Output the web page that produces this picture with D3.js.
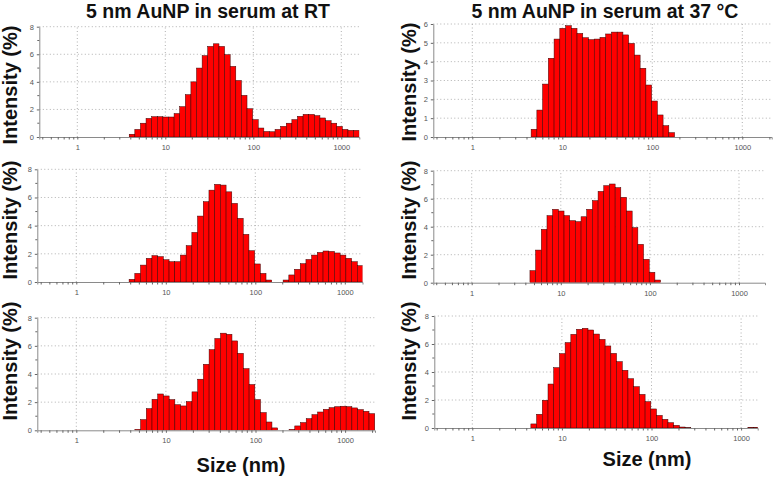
<!DOCTYPE html>
<html><head><meta charset="utf-8">
<script src="https://cdn.jsdelivr.net/npm/d3@7"></script>
<style>
html,body{margin:0;padding:0;background:#fff;}
svg{display:block;font-family:"Liberation Sans",Arial,sans-serif;}
</style></head>
<body>
<svg id="chart" width="773" height="479"></svg>
<script>
// Bin centres (nm) of the size classes shown
const sizes = [4.187, 4.849, 5.615, 6.503, 7.531, 8.721, 10.10, 11.70, 13.54, 15.69, 18.17, 21.04, 24.36, 28.21, 32.67, 37.84, 43.82, 50.75, 58.77, 68.06, 78.82, 91.28, 105.7, 122.4, 141.8, 164.2, 190.1, 220.2, 255.0, 295.3, 342.0, 396.1, 458.7, 531.2, 615.1, 712.4, 825.0, 955.4, 1106, 1281, 1484, 1718, 1990];

// Intensity (%) — room temperature
const rtTop = [0.2, 0.55, 1.0, 1.35, 1.47, 1.47, 1.45, 1.45, 1.7, 2.2, 3.07, 4.0, 5.0, 5.9, 6.57, 6.76, 6.57, 5.97, 5.12, 4.1, 3.02, 2.05, 1.26, 0.65, 0.4, 0.38, 0.55, 0.77, 1.0, 1.26, 1.5, 1.64, 1.64, 1.55, 1.38, 1.18, 1.0, 0.77, 0.55, 0.48, 0.48];
const rtMid = [0.19, 0.61, 1.2, 1.68, 1.87, 1.8, 1.58, 1.44, 1.44, 1.91, 2.58, 3.52, 4.68, 5.7, 6.52, 6.93, 6.88, 6.4, 5.58, 4.52, 3.38, 2.22, 1.28, 0.61, 0.14, 0, 0, 0.14, 0.5, 0.9, 1.3, 1.6, 1.91, 2.1, 2.2, 2.17, 2.06, 1.91, 1.68, 1.44, 1.16];
const rtBot = [0, 0.07, 0.76, 1.54, 2.2, 2.58, 2.44, 2.18, 1.82, 1.73, 2.04, 2.73, 3.63, 4.69, 5.73, 6.52, 6.9, 6.82, 6.35, 5.47, 4.38, 3.25, 2.18, 1.26, 0.59, 0.17, 0, 0, 0.07, 0.31, 0.55, 0.83, 1.11, 1.3, 1.49, 1.61, 1.68, 1.71, 1.68, 1.59, 1.47, 1.35, 1.18];

// Intensity (%) — 37 °C
const c37Top = [0, 0.41, 1.43, 2.81, 4.18, 5.2, 5.77, 5.91, 5.77, 5.5, 5.27, 5.17, 5.2, 5.29, 5.47, 5.57, 5.57, 5.42, 4.97, 4.35, 3.65, 2.76, 1.91, 1.17, 0.6, 0.23];
const c37Mid = [0, 0.86, 2.33, 3.81, 4.79, 5.24, 5.12, 4.79, 4.43, 4.36, 4.71, 5.24, 5.86, 6.52, 6.93, 7.05, 6.79, 6.1, 5.12, 3.93, 2.74, 1.67, 0.74, 0.19];
const c37Bot = [0, 0.29, 0.98, 1.98, 3.14, 4.31, 5.31, 6.1, 6.69, 7.05, 7.12, 7.0, 6.71, 6.33, 5.86, 5.33, 4.74, 4.12, 3.52, 2.95, 2.4, 1.88, 1.36, 0.9, 0.62, 0.38, 0.19, 0.07, 0.02, 0, 0, 0, 0, 0, 0, 0, 0, 0, 0, 0.05, 0.05];

// Axis ticks and texts
const yTicks8 = [0, 2, 4, 6, 8];
const yMinor8 = [1, 3, 5, 7];
const yTicks6 = [0, 1, 2, 3, 4, 5, 6];
const xTickLabels = [1, 10, 100, 1000];
const titles = ["5 nm AuNP in serum at RT", "5 nm AuNP in serum at 37 °C"];
const yLabel = "Intensity (%)";
const xLabel = "Size (nm)";

// Layout (pixels)
const panels = [
  {values: rtTop, p1: 77.3, dec: 88.0, x0: 39.3, x1: 359.3, yb: 137, yt: 26.7, ymax: 8, ticks: yTicks8, minor: yMinor8, lx: 17, ly: 85},
  {values: rtMid, p1: 76.3, dec: 89.5, x0: 37.3, x1: 362.5, yb: 282, yt: 169.3, ymax: 8, ticks: yTicks8, minor: yMinor8, lx: 17, ly: 220},
  {values: rtBot, p1: 76.3, dec: 89.6, x0: 37.3, x1: 375, yb: 430.3, yt: 317.7, ymax: 8, ticks: yTicks8, minor: yMinor8, lx: 17, ly: 361},
  {values: c37Top, p1: 472.3, dec: 90.0, x0: 433.3, x1: 771.7, yb: 137, yt: 24, ymax: 6, ticks: yTicks6, minor: [], lx: 416, ly: 82},
  {values: c37Mid, p1: 471.7, dec: 89.1, x0: 433.3, x1: 765, yb: 282.7, yt: 170.7, ymax: 8, ticks: yTicks8, minor: yMinor8, lx: 416, ly: 220},
  {values: c37Bot, p1: 472.3, dec: 89.6, x0: 434.3, x1: 757.7, yb: 428, yt: 316, ymax: 8, ticks: yTicks8, minor: yMinor8, lx: 416, ly: 361}
];

const svg = d3.select("#chart");
const gridCol = "#b0b0b0", axisCol = "#8a8a8a", tickTextCol = "#555";

// bin edges from neighbouring centres (geometric means)
const edges = sizes.map((s, i) => {
  const prev = i > 0 ? sizes[i - 1] : s * s / sizes[1];
  const next = i < sizes.length - 1 ? sizes[i + 1] : s * s / sizes[i - 1];
  return [Math.sqrt(prev * s), Math.sqrt(s * next)];
});

panels.forEach((p, k) => {
  const base = d3.scaleLog().domain([1, 1000]).range([p.p1, p.p1 + 3 * p.dec]);
  const x = d3.scaleLog().domain([base.invert(p.x0), base.invert(p.x1)]).range([p.x0, p.x1]);
  const y = d3.scaleLinear().domain([0, p.ymax]).range([p.yb, p.yt]);
  const g = svg.append("g");

  const clipId = "clip" + k;
  svg.append("clipPath").attr("id", clipId).append("rect")
    .attr("x", p.x0).attr("y", p.yt - 2).attr("width", p.x1 - p.x0).attr("height", p.yb - p.yt + 2);

  // horizontal grid
  g.selectAll(".hg").data(p.ticks.filter(t => t > 0)).join("line")
    .attr("x1", p.x0).attr("x2", p.x1).attr("y1", d => y(d)).attr("y2", d => y(d))
    .attr("stroke", gridCol).attr("stroke-width", 1).attr("stroke-dasharray", "1,2.5");
  // vertical grid
  g.selectAll(".vg").data(xTickLabels).join("line")
    .attr("x1", d => x(d)).attr("x2", d => x(d)).attr("y1", p.yb).attr("y2", p.yt)
    .attr("stroke", gridCol).attr("stroke-width", 1).attr("stroke-dasharray", "1,2.5");

  // bars
  const bars = p.values.map((v, i) => ({v, e: edges[i]})).filter(d => d.v > 0);
  g.append("g").attr("clip-path", `url(#${clipId})`).selectAll("rect").data(bars).join("rect")
    .attr("x", d => x(d.e[0])).attr("width", d => x(d.e[1]) - x(d.e[0]))
    .attr("y", d => y(d.v)).attr("height", d => y(0) - y(d.v))
    .attr("fill", "#ff0000").attr("stroke", "#3a0000").attr("stroke-width", 0.5);

  // x axis
  const xAxis = d3.axisBottom(x).tickSizeOuter(0).tickSize(2.5).tickPadding(5)
    .tickFormat(d => xTickLabels.includes(Math.round(d)) && Math.abs(Math.log10(d) - Math.round(Math.log10(d))) < 1e-6 ? String(Math.round(d)) : "");
  const gx = g.append("g").attr("transform", `translate(0,${p.yb})`).call(xAxis);
  gx.select(".domain").attr("stroke", axisCol);
  gx.selectAll(".tick line").attr("stroke", "#666");
  gx.selectAll("text").attr("fill", tickTextCol).attr("font-size", 7.5).attr("font-family", "Liberation Sans, Arial, sans-serif");

  // y axis
  const yAxis = d3.axisLeft(y).tickValues(p.ticks).tickSize(2.5).tickSizeOuter(0).tickPadding(3).tickFormat(d3.format("d"));
  const gy = g.append("g").attr("transform", `translate(${p.x0},0)`).call(yAxis);
  gy.select(".domain").attr("stroke", axisCol);
  gy.selectAll(".tick line").attr("stroke", "#666");
  gy.selectAll("text").attr("fill", tickTextCol).attr("font-size", 7.5).attr("font-family", "Liberation Sans, Arial, sans-serif");
  g.selectAll(".ym").data(p.minor).join("line")
    .attr("x1", p.x0 - 2).attr("x2", p.x0).attr("y1", d => y(d)).attr("y2", d => y(d))
    .attr("stroke", "#666");

  // y label
  g.append("text").attr("transform", `translate(${p.lx},${p.ly}) rotate(-90)`)
    .attr("text-anchor", "middle").attr("font-weight", "bold").attr("font-size", 20)
    .attr("fill", "#111").text(yLabel);
});

// titles
svg.append("text").attr("x", 208).attr("y", 18).attr("text-anchor", "middle")
  .attr("font-weight", "bold").attr("font-size", 19.5).attr("fill", "#111").text(titles[0]);
svg.append("text").attr("x", 605).attr("y", 18).attr("text-anchor", "middle")
  .attr("font-weight", "bold").attr("font-size", 19.5).attr("fill", "#111").text(titles[1]);

// x labels
svg.append("text").attr("x", 241).attr("y", 472).attr("text-anchor", "middle")
  .attr("font-weight", "bold").attr("font-size", 20).attr("fill", "#111").text(xLabel);
svg.append("text").attr("x", 647).attr("y", 466).attr("text-anchor", "middle")
  .attr("font-weight", "bold").attr("font-size", 20).attr("fill", "#111").text(xLabel);
</script>
</body></html>
